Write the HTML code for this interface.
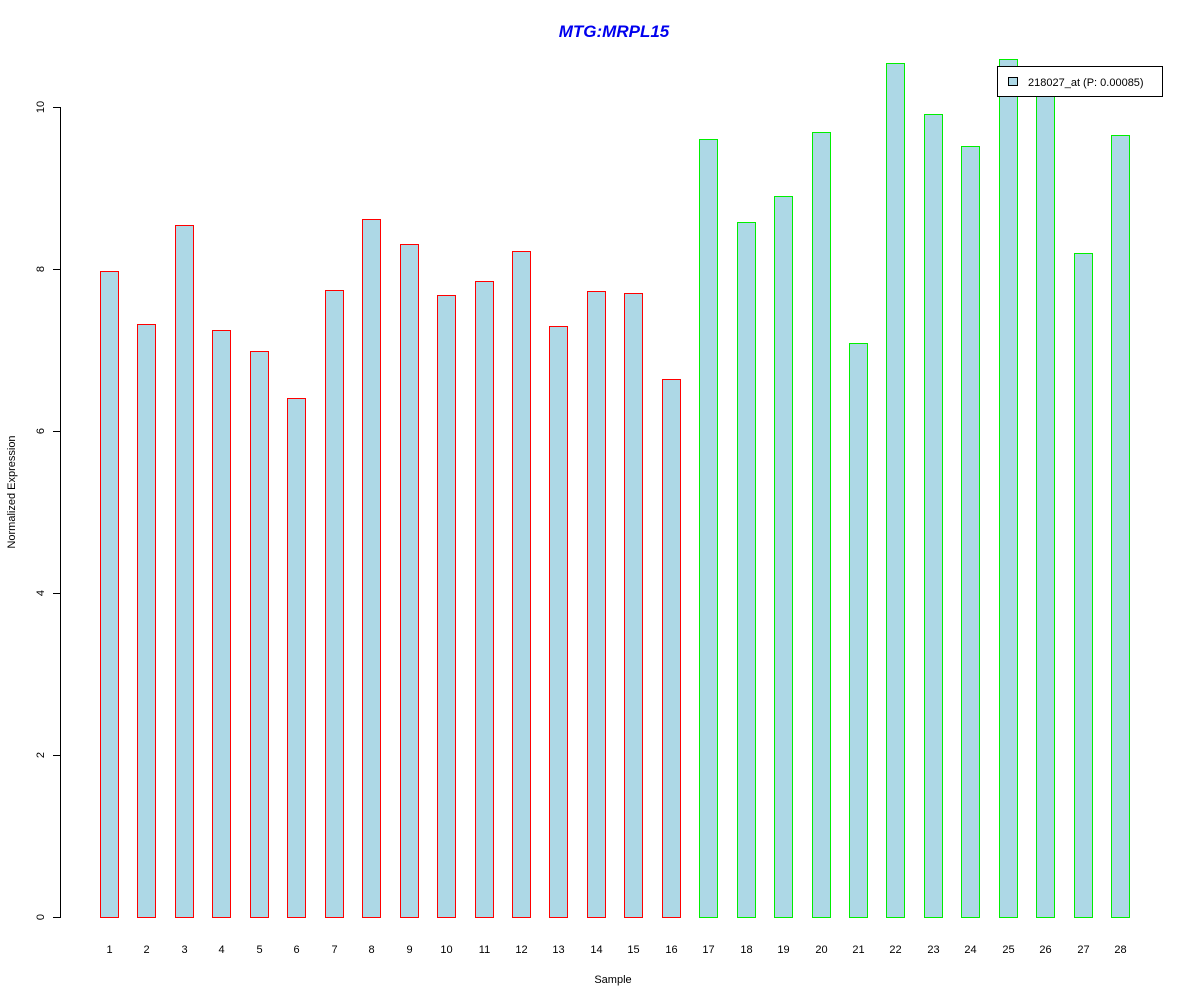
<!DOCTYPE html>
<html><head><style>body{margin:0;background:#fff}</style></head><body>
<svg width="1200" height="1000" xmlns="http://www.w3.org/2000/svg" font-family="Liberation Sans, sans-serif" shape-rendering="crispEdges">
<rect width="1200" height="1000" fill="#fff"/>
<text x="614" y="37" text-anchor="middle" font-size="17" font-weight="bold" font-style="italic" fill="#0000ee">MTG:MRPL15</text>
<g fill="#000">
<rect x="60" y="107" width="1" height="811"/>
<rect x="53" y="917" width="7" height="1"/><rect x="53" y="755" width="7" height="1"/>
<rect x="53" y="593" width="7" height="1"/><rect x="53" y="431" width="7" height="1"/>
<rect x="53" y="269" width="7" height="1"/><rect x="53" y="107" width="7" height="1"/>
</g>
<g font-size="11" text-anchor="middle" fill="#000">
<text transform="translate(44,917) rotate(-90)">0</text>
<text transform="translate(44,755) rotate(-90)">2</text>
<text transform="translate(44,593) rotate(-90)">4</text>
<text transform="translate(44,431) rotate(-90)">6</text>
<text transform="translate(44,269) rotate(-90)">8</text>
<text transform="translate(44,107) rotate(-90)">10</text>
<text transform="translate(15,492) rotate(-90)">Normalized Expression</text>
<text x="613" y="983">Sample</text>
</g>
<g id="bars"></g>
<rect x="997" y="66" width="166" height="31" fill="#000"/>
<rect x="998" y="67" width="164" height="29" fill="#fff"/>
<rect x="1008" y="77" width="10" height="9" fill="#000"/>
<rect x="1009" y="78" width="8" height="7" fill="#add8e6"/>
<text x="1028" y="86" font-size="11">218027_at (P: 0.00085)</text>
</svg>
<script>
var xs=[100,137,175,212,250,287,325,362,400,437,475,512,549,587,624,662,699,737,774,812,849,886,924,961,999,1036,1074,1111];
var hs=[646,593,692,587,566,519,627,698,673,622,636,666,591,626,624,538,778,695,721,785,574,854,803,771,858,826,664,782];
var g=document.getElementById('bars'),s='';
for(var i=0;i<28;i++){var x=xs[i],h=hs[i],c=i<16?'#ff0000':'#00ee00';
s+='<rect x="'+x+'" y="'+(917-h)+'" width="19" height="'+(h+1)+'" fill="'+c+'"/>';
s+='<rect x="'+(x+1)+'" y="'+(918-h)+'" width="17" height="'+(h-1)+'" fill="#add8e6"/>';
s+='<text x="'+(x+9.5)+'" y="953" font-size="11" text-anchor="middle">'+(i+1)+'</text>';}
g.innerHTML=s;
</script>
</body></html>
